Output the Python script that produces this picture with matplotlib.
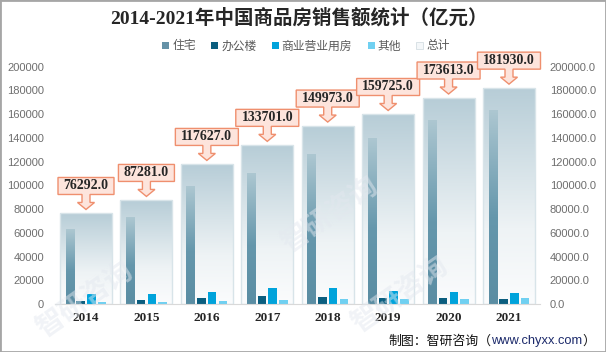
import numpy as np
import matplotlib.pyplot as plt
import matplotlib.transforms as mtransforms
from matplotlib.patches import Patch, Polygon, Rectangle
from matplotlib.colors import LinearSegmentedColormap

years = ['2014', '2015', '2016', '2017', '2018', '2019', '2020', '2021']
total = [76292.0, 87281.0, 117627.0, 133701.0, 149973.0, 159725.0, 173613.0, 181930.0]
residential = [62411, 72770, 99064, 110239, 126393, 139440, 154567, 162730]
office = [2900, 3600, 5100, 6800, 5900, 5100, 5100, 4200]
commercial = [8400, 8500, 10100, 13500, 13500, 11000, 10100, 9300]
other = [1700, 1700, 2500, 3400, 4200, 4200, 4200, 5100]
series_names = ['住宅', '办公楼', '商业营业用房', '其他', '总计']

CJK = 'Noto Sans CJK SC'
fig = plt.figure(figsize=(6.06, 3.52), dpi=100)
fig.patch.set_facecolor('white')

ax = fig.add_axes([55 / 606, 48 / 352, 485 / 606, 237.3 / 352])
x = np.arange(len(years))

# total bars: gradient fill + thin edge
total_cmap = LinearSegmentedColormap.from_list(
    'tot', [(0, '#fbfcfd'), (0.35, '#eef3f5'), (1, '#b7cdd7')])
res_cmap = LinearSegmentedColormap.from_list(
    'res', [(0, '#5a8da3'), (0.45, '#6597ac'), (1, '#adc7d1')])
grad = np.linspace(1, 0, 256).reshape(-1, 1)
tw = 0.86
for xi, t in zip(x, total):
    ax.imshow(grad, extent=[xi - tw / 2, xi + tw / 2, 0, t], aspect='auto',
              cmap=total_cmap, vmin=0, vmax=1, zorder=1, interpolation='bicubic')
ax.bar(x, total, width=tw, facecolor='none', edgecolor='#d8e4e9', lw=1, zorder=1.5)

# sub bars, residential with its own gradient
sw = 0.14
sp = 0.178
for xi, r in zip(x, residential):
    ax.imshow(grad, extent=[xi - 1.5 * sp - sw / 2, xi - 1.5 * sp + sw / 2, 0, r],
              aspect='auto', cmap=res_cmap, vmin=0, vmax=1, zorder=2,
              interpolation='bicubic')
ax.bar(x - 0.5 * sp, office, width=sw, color='#0b5e7f', zorder=2)
ax.bar(x + 0.5 * sp, commercial, width=sw, color='#00a3db', zorder=2)
ax.bar(x + 1.5 * sp, other, width=sw, color='#70d0f1', zorder=2)

ax.set_xlim(-0.513, 7.513)
ax.set_ylim(0, 200000)

# callouts above the total bars (shape in pixels, anchored at bar top)
for xi, t in zip(x, total):
    label = f'{t:.1f}'
    w = 7 * len(label) + 7
    pts = [(0, 4), (8.5, 11), (4, 11), (4, 19), (w / 2, 19), (w / 2, 36),
           (-w / 2, 36), (-w / 2, 19), (-4, 19), (-4, 11), (-8.5, 11)]
    trans = (mtransforms.Affine2D().scale(1 / 100) + fig.dpi_scale_trans
             + mtransforms.ScaledTranslation(xi, t, ax.transData))
    ax.add_patch(Polygon(pts, closed=True, transform=trans, fc='#fde4dc',
                         ec='#ef8f6e', lw=1, zorder=5, clip_on=False))
    ax.annotate(label, xy=(xi, t), xytext=(0, 27.5 * 0.72), textcoords='offset points',
                ha='center', va='center', fontsize=10, fontweight='bold',
                family='Liberation Serif', color='#262626', zorder=6,
                annotation_clip=False)

yt = np.arange(0, 200001, 20000)
ax.set_yticks(yt)
ax.set_yticklabels([str(v) for v in yt], family='Liberation Sans')
ax.set_xticks(x)
ax.set_xticklabels(years, fontsize=9.5, fontweight='bold', family='Liberation Serif',
                   color='#262626')
ax.tick_params(axis='y', length=0, pad=8, labelsize=8, labelcolor='#6e6e6e')
ax.tick_params(axis='x', length=0, pad=6)
for s in ['top', 'left', 'right']:
    ax.spines[s].set_visible(False)
ax.spines['bottom'].set_color('#d9d9d9')

ax2 = ax.twinx()
ax2.set_ylim(0, 200000)
ax2.set_yticks(yt)
ax2.set_yticklabels([f'{v:.1f}' for v in yt], family='Liberation Sans')
ax2.tick_params(axis='y', length=0, pad=7, labelsize=8, labelcolor='#6e6e6e')
for s in ax2.spines.values():
    s.set_visible(False)

# title
fig.text(0.4926, 1 - 18 / 352, '2014-2021年中国商品房销售额统计（亿元）', ha='center',
         va='center', fontsize=14, fontweight='bold',
         family=['Liberation Serif', CJK], color='#262626')

# legend
handles = [Patch(fc='#6592a7'), Patch(fc='#0b5e7f'), Patch(fc='#00a3db'),
           Patch(fc='#70d0f1'), Patch(fc='#f4f7f9', ec='#d5dee3', lw=0.6)]
fig.legend(handles, series_names, loc='center', bbox_to_anchor=(0.505, 1 - 46 / 352),
           ncol=5, frameon=False, prop={'family': CJK, 'size': 8.5},
           handlelength=0.6, handleheight=0.6, handletextpad=0.25,
           columnspacing=1.3, labelcolor='#595959')

# source line
t1 = fig.text(388 / 606, 1 - 341 / 352, '制图：智研咨询（', ha='left', va='center',
              fontsize=9.3, family=CJK, color='#111111')
t2 = plt.annotate('www.chyxx.com', xy=(1, 0.5), xycoords=t1, ha='left', va='center',
                  fontsize=9.3, family='Liberation Sans', color='#1c2a6b')
plt.annotate('）', xy=(1, 0.5), xycoords=t2, ha='left', va='center',
             fontsize=9.3, family=CJK, color='#111111')

# faint watermarks
for px, py in [(85, 300), (400, 295), (330, 215)]:
    fig.text(px / 606, 1 - py / 352, '智研咨询', rotation=35, ha='center', va='center',
             fontsize=20, fontweight='bold', family=CJK, color='#e3e8ef', alpha=0.5,
             zorder=0)

fig.add_artist(Rectangle((0, 0), 1, 1, transform=fig.transFigure, fill=False,
                         ec='#a6a6a6', lw=2))

fig.savefig('out.png', dpi=100)
